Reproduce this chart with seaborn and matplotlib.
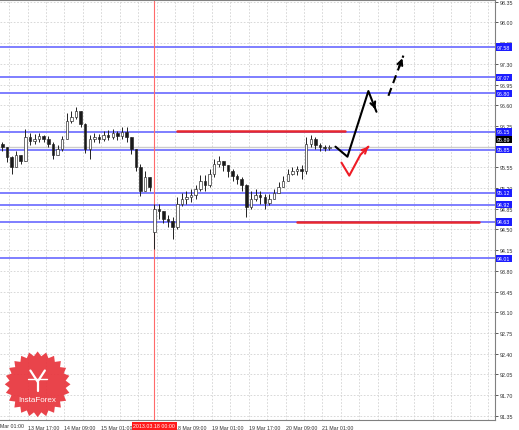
import numpy as np
import pandas as pd
import seaborn as sns
import matplotlib.pyplot as plt
from matplotlib.patches import Polygon
from matplotlib.transforms import blended_transform_factory

# hourly timeline, one candle every 2 hours (prices)
closes = [95.90, 95.73, 95.56, 95.76, 95.66, 96.07, 96.00, 96.03, 96.08, 96.03,
          95.95, 95.76, 95.86, 96.03, 96.34, 96.40, 96.51, 96.29, 95.86, 96.03,
          96.07, 96.03, 96.10, 96.07, 96.13, 96.08, 96.15, 96.07, 95.86, 95.56,
          95.15, 95.39, 95.22, 94.85, 94.81, 94.68, 94.64, 94.54, 94.93, 95.02,
          95.05, 95.08, 95.19, 95.32, 95.25, 95.44, 95.61, 95.66, 95.59, 95.49,
          95.41, 95.36, 95.25, 94.88, 95.02, 95.08, 95.05, 94.95, 95.02, 95.12,
          95.22, 95.32, 95.44, 95.49, 95.52, 95.49, 95.95, 96.03, 95.93, 95.90,
          95.88, 95.89]
highs = [95.98, 95.86, 95.74, 95.83, 95.76, 96.20, 96.13, 96.12, 96.13, 96.10,
         96.08, 95.98, 95.93, 96.08, 96.47, 96.51, 96.57, 96.49, 96.30, 96.10,
         96.13, 96.12, 96.17, 96.18, 96.20, 96.17, 96.24, 96.24, 96.07, 95.86,
         95.61, 95.49, 95.36, 94.93, 94.93, 94.81, 94.75, 94.71, 95.05, 95.12,
         95.15, 95.19, 95.25, 95.42, 95.42, 95.52, 95.69, 95.74, 95.66, 95.59,
         95.52, 95.44, 95.39, 95.27, 95.15, 95.19, 95.15, 95.10, 95.10, 95.19,
         95.30, 95.41, 95.52, 95.56, 95.58, 95.59, 96.07, 96.10, 96.07, 95.96,
         95.93, 95.93]
lows = [95.83, 95.64, 95.44, 95.66, 95.61, 95.66, 95.93, 95.95, 95.98, 95.98,
        95.90, 95.69, 95.76, 95.83, 96.10, 96.30, 96.37, 96.24, 95.79, 95.69,
        95.98, 95.96, 96.00, 96.02, 96.03, 96.02, 96.03, 95.98, 95.78, 95.49,
        95.07, 95.22, 95.15, 94.17, 94.68, 94.61, 94.54, 94.34, 94.51, 94.90,
        94.93, 94.97, 95.02, 95.15, 95.15, 95.22, 95.39, 95.56, 95.49, 95.39,
        95.32, 95.27, 95.15, 94.71, 94.85, 94.98, 94.93, 94.85, 94.92, 95.02,
        95.12, 95.22, 95.32, 95.42, 95.42, 95.36, 95.44, 95.90, 95.86, 95.83,
        95.83, 95.85]
first_open = 95.95
gap_bar = 33
gap_open = 94.45

levels = [97.58, 97.07, 96.80, 96.15, 95.85, 95.12, 94.92, 94.63, 94.01]
last_price = 95.89

# red support / resistance segments: price, start hour, end hour
seg_price = [96.17, 94.63]
seg_start = [77, 129]
seg_end = [150, 208]

# forecast paths (hour, price)
main_x = [145.7, 150.9, 160.0, 163.5]
main_y = [95.90, 95.73, 96.84, 96.49]
alt_x = [148.3, 151.7, 156.5, 160.0]
alt_y = [95.63, 95.41, 95.76, 95.90]
ext_x = [168.7, 175.2]
ext_y = [96.76, 97.44]

tick_hours = [12, 28, 44, 76, 92, 108, 124, 140]
tick_labels = ['13 Mar 17:00', '14 Mar 09:00', '15 Mar 01:00', '18 Mar 09:00',
               '19 Mar 01:00', '19 Mar 17:00', '20 Mar 09:00', '21 Mar 01:00']
marker_hour = 67
marker_label = '2013.03.18 00:00'
price_ticks = [98.35, 98.00, 97.65, 97.30, 96.95, 96.60, 96.25, 95.90, 95.55,
               95.20, 94.85, 94.50, 94.15, 93.80, 93.45, 93.10, 92.75, 92.40,
               92.05, 91.70, 91.35]
# 95.90 sits under the level labels in the reference
hidden_ticks = [95.90]

sns.set_style('white')
plt.rcParams['font.family'] = ['Liberation Sans', 'DejaVu Sans']
fs = 3.8

df = pd.DataFrame({'close': closes, 'high': highs, 'low': lows})
df['hour'] = np.arange(len(df)) * 2 + 1
df['open'] = df['close'].shift(1)
df.loc[0, 'open'] = first_open
df.loc[gap_bar, 'open'] = gap_open
df['high'] = df[['high', 'open', 'close']].max(axis=1)
df['low'] = df[['low', 'open', 'close']].min(axis=1)

fig = plt.figure(figsize=(5.19, 4.31), dpi=100)
ax = fig.add_axes([0, 0.0232, 0.9538, 0.975])
ax.set_xlim(0, 215)
ax.set_ylim(91.277, 98.384)

# grid
for h in range(4, 216, 8):
    ax.axvline(h, color='#d2d2d2', lw=0.6, ls=(0, (2, 2)), zorder=0)
for p in price_ticks:
    ax.axhline(p, color='#d2d2d2', lw=0.6, ls=(0, (2, 2)), zorder=0)

# levels
for lv in levels:
    ax.axhline(lv, color='#7474ff', lw=1.3, zorder=1)
ax.axhline(last_price, color='#cccccc', lw=1.0, zorder=1)
ax.axvline(marker_hour, color='#ff6a6a', lw=0.8, zorder=1)
for p, a, b in zip(seg_price, seg_start, seg_end):
    ax.plot([a, b], [p, p], color='#e8272d', lw=1.8, zorder=2)

# candles
ax.vlines(df['hour'], df['low'], df['high'], color='#222222', lw=0.7, zorder=3)
body_lo = df[['open', 'close']].min(axis=1)
body_h = (df['close'] - df['open']).abs().clip(lower=0.01)
colors = np.where(df['close'] >= df['open'], 'white', '#1a1a1a')
ax.bar(df['hour'], body_h, bottom=body_lo, width=1.1, color=colors,
       edgecolor='#222222', lw=0.45, zorder=4)

# forecast paths
paths = [(main_x, main_y, 'black', '-'), (alt_x, alt_y, '#ee1c25', '-'),
         (ext_x, ext_y, 'black', (0, (4, 2.5)))]
for px, py, col, ls in paths:
    sns.lineplot(x=px, y=py, sort=False, color=col, lw=1.5, ls=ls, ax=ax,
                 zorder=5, estimator=None)
    x0 = px[-1] + (px[-2] - px[-1]) * 0.35
    y0 = py[-1] + (py[-2] - py[-1]) * 0.35
    ax.annotate('', xy=(px[-1], py[-1]), xytext=(x0, y0),
                arrowprops=dict(arrowstyle='->', color=col, lw=1.5,
                                mutation_scale=9), zorder=6)

# axes styling
ax.spines['left'].set_visible(False)
for side in ['right', 'bottom', 'top']:
    ax.spines[side].set_color('#808080')
    ax.spines[side].set_linewidth(0.8)
ax.yaxis.tick_right()
ax.set_yticks(price_ticks)
ax.set_yticklabels(['' if p in hidden_ticks else f'{p:.2f}' for p in price_ticks])
ax.tick_params(axis='y', labelsize=fs, length=2, width=0.6, pad=1.5,
               colors='#404040', labelcolor='#303030')
ax.set_xticks(tick_hours)
ax.set_xticklabels(tick_labels)
ax.tick_params(axis='x', labelsize=fs, length=2, width=0.6, pad=1.5,
               colors='#404040', labelcolor='#303030')
for lbl in ax.get_xticklabels():
    lbl.set_horizontalalignment('left')
ax.set_xlabel('')
ax.set_ylabel('')

tr_y = blended_transform_factory(ax.transAxes, ax.transData)
tr_x = blended_transform_factory(ax.transData, ax.transAxes)
for lv in levels:
    ax.text(1.004, lv, f'{lv:.2f}', transform=tr_y, fontsize=fs, color='white',
            va='center', ha='left', clip_on=False, zorder=10,
            bbox=dict(boxstyle='square,pad=0.25', fc='#1c1cff', ec='none'))
ax.text(1.004, last_price + 0.13, f'{last_price:.2f}', transform=tr_y, fontsize=fs,
        color='white', va='center', ha='left', clip_on=False, zorder=9,
        bbox=dict(boxstyle='square,pad=0.2', fc='black', ec='none'))
ax.text(marker_hour, -0.008, marker_label, transform=tr_x, fontsize=fs,
        color='white', va='top', ha='center', clip_on=False, zorder=10,
        bbox=dict(boxstyle='square,pad=0.3', fc='#ff1a1a', ec='none'))
ax.text(0.0, -0.008, 'Mar 01:00', transform=ax.transAxes, fontsize=fs,
        color='#303030', va='top', ha='left', clip_on=False)

# InstaForex badge
lax = fig.add_axes([0.006, 0.025, 0.133, 0.162])
lax.set_xlim(-1.05, 1.05)
lax.set_ylim(-1.05, 1.05)
lax.set_aspect('equal')
lax.axis('off')
ang = np.linspace(0, 2 * np.pi, 49)[:-1]
rad = np.where(np.arange(48) % 2 == 0, 1.0, 0.86)
lax.add_patch(Polygon(np.c_[rad * np.cos(ang), rad * np.sin(ang)],
                      closed=True, fc='#e8343c', ec='none', alpha=0.92))
lax.plot([-0.22, 0, 0.22], [0.42, 0.08, 0.42], color='white', lw=1.6)
lax.plot([0, 0], [0.08, -0.2], color='white', lw=1.6)
lax.plot([-0.3, 0.3], [0.15, 0.15], color='white', lw=1.0)
lax.text(0, -0.45, 'InstaForex', color='white', fontsize=5.8,
         ha='center', va='center')

fig.savefig('out.png', dpi=100)
